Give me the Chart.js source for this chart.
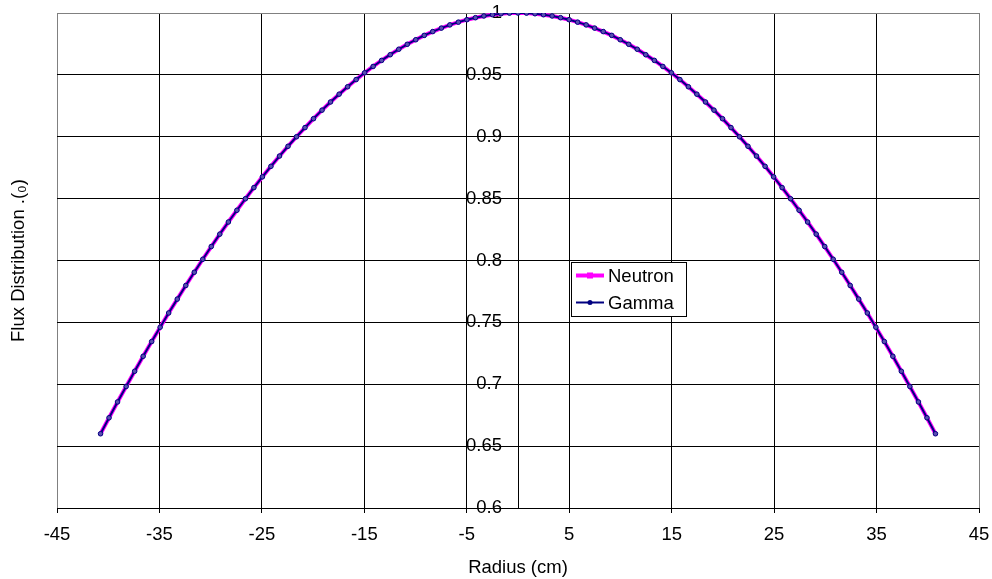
<!DOCTYPE html>
<html>
<head>
<meta charset="utf-8">
<script src="https://cdn.jsdelivr.net/npm/chart.js@4.4.1/dist/chart.umd.min.js"></script>
<style>
  html, body { margin: 0; padding: 0; background: #ffffff; }
  #wrap { position: relative; width: 992px; height: 579px; }
</style>
</head>
<body>
<div id="wrap"><canvas id="c"></canvas></div>
<script>
// ---- data ----
const radius = [
  -40.75, -39.92, -39.09, -38.25, -37.42, -36.59, -35.76, -34.93, -34.10, -33.26,
  -32.43, -31.60, -30.77, -29.94, -29.11, -28.27, -27.44, -26.61, -25.78, -24.95,
  -24.12, -23.28, -22.45, -21.62, -20.79, -19.96, -19.13, -18.30, -17.46, -16.63,
  -15.80, -14.97, -14.14, -13.31, -12.47, -11.64, -10.81, -9.98, -9.15, -8.32,
  -7.48, -6.65, -5.82, -4.99, -4.16, -3.33, -2.49, -1.66, -0.83, 0,
  0.83, 1.66, 2.49, 3.33, 4.16, 4.99, 5.82, 6.65, 7.48, 8.32,
  9.15, 9.98, 10.81, 11.64, 12.47, 13.31, 14.14, 14.97, 15.80, 16.63,
  17.46, 18.30, 19.13, 19.96, 20.79, 21.62, 22.45, 23.28, 24.12, 24.95,
  25.78, 26.61, 27.44, 28.27, 29.11, 29.94, 30.77, 31.60, 32.43, 33.26,
  34.10, 34.93, 35.76, 36.59, 37.42, 38.25, 39.09, 39.92, 40.75
];
const neutron = [
  0.6600, 0.6729, 0.6857, 0.6982, 0.7105, 0.7226, 0.7345, 0.7461, 0.7576, 0.7688,
  0.7798, 0.7905, 0.8010, 0.8113, 0.8213, 0.8311, 0.8406, 0.8499, 0.8589, 0.8676,
  0.8761, 0.8844, 0.8923, 0.9000, 0.9074, 0.9146, 0.9215, 0.9281, 0.9344, 0.9404,
  0.9462, 0.9517, 0.9568, 0.9617, 0.9663, 0.9707, 0.9747, 0.9784, 0.9819, 0.9850,
  0.9878, 0.9904, 0.9926, 0.9946, 0.9962, 0.9976, 0.9986, 0.9994, 0.9999, 1.0000,
  0.9999, 0.9994, 0.9986, 0.9976, 0.9962, 0.9946, 0.9926, 0.9904, 0.9878, 0.9850,
  0.9819, 0.9784, 0.9747, 0.9707, 0.9663, 0.9617, 0.9568, 0.9517, 0.9462, 0.9404,
  0.9344, 0.9281, 0.9215, 0.9146, 0.9074, 0.9000, 0.8923, 0.8844, 0.8761, 0.8676,
  0.8589, 0.8499, 0.8406, 0.8311, 0.8213, 0.8113, 0.8010, 0.7905, 0.7798, 0.7688,
  0.7576, 0.7461, 0.7345, 0.7226, 0.7105, 0.6982, 0.6857, 0.6729, 0.6600
];
const gamma = [
  0.6600, 0.6729, 0.6857, 0.6982, 0.7105, 0.7226, 0.7345, 0.7461, 0.7576, 0.7688,
  0.7798, 0.7905, 0.8010, 0.8113, 0.8213, 0.8311, 0.8406, 0.8499, 0.8589, 0.8676,
  0.8761, 0.8844, 0.8923, 0.9000, 0.9074, 0.9146, 0.9215, 0.9281, 0.9344, 0.9404,
  0.9462, 0.9517, 0.9568, 0.9617, 0.9663, 0.9707, 0.9747, 0.9784, 0.9819, 0.9850,
  0.9878, 0.9904, 0.9926, 0.9946, 0.9962, 0.9976, 0.9986, 0.9994, 0.9999, 1.0000,
  0.9999, 0.9994, 0.9986, 0.9976, 0.9962, 0.9946, 0.9926, 0.9904, 0.9878, 0.9850,
  0.9819, 0.9784, 0.9747, 0.9707, 0.9663, 0.9617, 0.9568, 0.9517, 0.9462, 0.9404,
  0.9344, 0.9281, 0.9215, 0.9146, 0.9074, 0.9000, 0.8923, 0.8844, 0.8761, 0.8676,
  0.8589, 0.8499, 0.8406, 0.8311, 0.8213, 0.8113, 0.8010, 0.7905, 0.7798, 0.7688,
  0.7576, 0.7461, 0.7345, 0.7226, 0.7105, 0.6982, 0.6857, 0.6729, 0.6600
];
const seriesNames = ["Neutron", "Gamma"];
const xTitle = "Radius (cm)";
const yTitle = "Flux Distribution .(\u2080)";
const xMin = -45, xMax = 45, xStep = 10;
const yMin = 0.6, yMax = 1, yStep = 0.05;

// ---- chart ----
const FONT = "'Liberation Sans', Arial, sans-serif";
const FSIZE = 18.5;
const MAGENTA = "#ff00ff";
const NAVY = "#000080";

const legendPlugin = {
  id: "boxLegend",
  afterDraw(chart) {
    const ctx = chart.ctx;
    const bx = 571, by = 262, bw = 115, bh = 54;
    ctx.save();
    ctx.fillStyle = "#ffffff";
    ctx.fillRect(bx, by, bw, bh);
    ctx.strokeStyle = "#000000";
    ctx.lineWidth = 1;
    ctx.strokeRect(bx + 0.5, by + 0.5, bw, bh);
    const rows = [
      { name: seriesNames[0], y: 275.5, color: MAGENTA, lw: 4, marker: "rect" },
      { name: seriesNames[1], y: 302.5, color: NAVY, lw: 2, marker: "circle" }
    ];
    rows.forEach(r => {
      ctx.strokeStyle = r.color;
      ctx.lineWidth = r.lw;
      ctx.beginPath();
      ctx.moveTo(576, r.y);
      ctx.lineTo(604, r.y);
      ctx.stroke();
      ctx.fillStyle = r.color;
      if (r.marker === "rect") {
        ctx.fillRect(587, r.y - 3, 6, 6);
      } else {
        ctx.beginPath();
        ctx.arc(590, r.y, 2.5, 0, Math.PI * 2);
        ctx.fill();
      }
      ctx.fillStyle = "#000000";
      ctx.font = FSIZE + "px " + FONT;
      ctx.textAlign = "left";
      ctx.textBaseline = "middle";
      ctx.fillText(r.name, 608, r.y + 1.5);
    });
    ctx.restore();
  }
};

const toPts = vals => radius.map((r, i) => ({ x: r, y: vals[i] }));

new Chart(document.getElementById("c"), {
  type: "scatter",
  data: {
    datasets: [
      {
        label: seriesNames[0],
        data: toPts(neutron),
        showLine: true,
        borderColor: MAGENTA,
        backgroundColor: MAGENTA,
        borderWidth: 4,
        pointStyle: "rect",
        pointRadius: 2.5,
        pointBorderWidth: 0,
        tension: 0,
        order: 1
      },
      {
        label: seriesNames[1],
        data: toPts(gamma),
        showLine: true,
        borderColor: NAVY,
        backgroundColor: "#5a4fb0",
        borderWidth: 2,
        pointStyle: "circle",
        pointRadius: 2.3,
        pointBorderWidth: 1,
        pointBorderColor: NAVY,
        tension: 0,
        order: 0
      }
    ]
  },
  options: {
    responsive: true,
    maintainAspectRatio: false,
    animation: false,
    layout: { padding: { top: 13, right: 13, left: 0, bottom: 0 } },
    plugins: {
      legend: { display: false },
      tooltip: { enabled: false }
    },
    scales: {
      x: {
        type: "linear",
        position: "bottom",
        min: xMin, max: xMax,
        afterFit: s => { s.height = 71; },
        ticks: {
          stepSize: xStep,
          color: "#000",
          font: { family: FONT, size: FSIZE, lineHeight: 2.2 },
          padding: 2,
          maxRotation: 0,
          autoSkip: false
        },
        grid: {
          color: c => (c.tick && Math.abs(c.tick.value) === 45) ? "#808080" : "#000000",
          lineWidth: 1,
          tickLength: 5,
          tickColor: "#000000"
        },
        border: { display: true, color: "#000000", width: 1 },
        title: {
          display: true,
          text: xTitle,
          color: "#000",
          font: { family: FONT, size: FSIZE },
          padding: { top: 0, bottom: 0 }
        }
      },
      y: {
        type: "linear",
        position: "center",
        min: yMin, max: yMax,
        ticks: {
          stepSize: yStep,
          color: "#000",
          font: { family: FONT, size: FSIZE, lineHeight: 1.1 },
          padding: 2,
          callback: v => String(Math.round(v * 100) / 100)
        },
        grid: {
          color: c => (c.tick && c.tick.value >= 0.999) ? "#808080" : "#000000",
          lineWidth: 1,
          tickLength: 14,
          tickColor: "#000000"
        },
        border: { display: true, color: "#000000", width: 1 }
      },
      yTitleAxis: {
        type: "linear",
        position: "left",
        afterFit: s => { s.width = 57; },
        ticks: { display: false },
        grid: { display: false },
        border: { display: false },
        title: {
          display: true,
          text: yTitle,
          color: "#000",
          font: { family: FONT, size: FSIZE },
          padding: { top: 8, bottom: 0 }
        }
      }
    }
  },
  plugins: [legendPlugin]
});
</script>
</body>
</html>
